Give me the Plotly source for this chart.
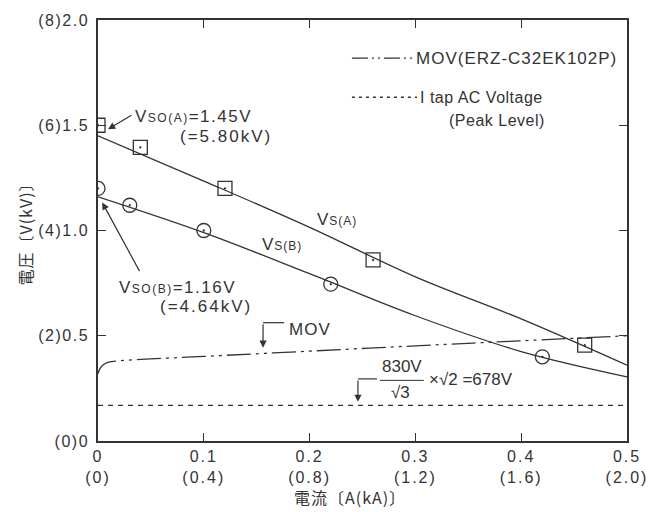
import plotly.graph_objects as go

# --- measured series -------------------------------------------------------
# V-I curve of the surge-arrester stack A (fitted line) and its measured points
curve_a_current = [0.0, 0.1, 0.2, 0.3, 0.4, 0.5]
curve_a_voltage = [1.45, 1.235, 1.015, 0.78, 0.58, 0.36]
meas_a_current = [0.0, 0.04, 0.12, 0.26, 0.46]
meas_a_voltage = [1.50, 1.395, 1.20, 0.86, 0.455]

# stack B
curve_b_current = [0.0, 0.1, 0.2, 0.3, 0.4, 0.5]
curve_b_voltage = [1.16, 0.99, 0.795, 0.595, 0.425, 0.305]
meas_b_current = [0.0, 0.03, 0.10, 0.22, 0.42]
meas_b_voltage = [1.20, 1.12, 1.00, 0.745, 0.40]

# MOV (ERZ-C32EK102P) characteristic
mov_current = [0.0, 0.002, 0.005, 0.01, 0.02, 0.05, 0.1, 0.2, 0.3, 0.4, 0.5]
mov_voltage = [0.32, 0.345, 0.362, 0.375, 0.381, 0.39, 0.402, 0.427, 0.452, 0.476, 0.50]

# 1 tap AC voltage, peak level: 830 V / sqrt(3) * sqrt(2) = 678 V  (kV scale = 4x)
itap_current = [0.0, 0.5]
itap_voltage = [0.678 / 4, 0.678 / 4]

# axis ticks
x_tick_vals = [0, 0.1, 0.2, 0.3, 0.4, 0.5]
x_tick_text = ["0<br>(0)", "0.1<br>(0.4)", "0.2<br>(0.8)", "0.3<br>(1.2)",
               "0.4<br>(1.6)", "0.5<br>(2.0)"]
y_tick_vals = [0, 0.5, 1.0, 1.5, 2.0]
y_tick_text = ["(0)0", "(2)0.5", "(4)1.0", "(6)1.5", "(8)2.0"]

INK = "#333333"
FONT = "Liberation Sans"
CJK = "Noto Sans CJK JP"
MOV_DASH = "24px,5px,3px,5px,3px,5px"
DOT_DASH = "5px,5px"


def spaced(s, px=2):
    return f"<span style='letter-spacing:{px}px'>{s}</span>"


fig = go.Figure()

fig.add_trace(go.Scatter(x=curve_a_current, y=curve_a_voltage, mode="lines",
                         line=dict(color=INK, width=1.3, shape="spline")))
fig.add_trace(go.Scatter(x=curve_b_current, y=curve_b_voltage, mode="lines",
                         line=dict(color=INK, width=1.3, shape="spline")))
fig.add_trace(go.Scatter(x=mov_current, y=mov_voltage, mode="lines",
                         line=dict(color=INK, width=1.3, dash=MOV_DASH, shape="spline")))
fig.add_trace(go.Scatter(x=itap_current, y=itap_voltage, mode="lines",
                         line=dict(color=INK, width=1.3, dash=DOT_DASH)))
fig.add_trace(go.Scatter(x=meas_a_current, y=meas_a_voltage, mode="markers",
                         marker=dict(symbol="square-open-dot", size=14, color=INK,
                                     line=dict(width=1.3, color=INK))))
fig.add_trace(go.Scatter(x=meas_b_current, y=meas_b_voltage, mode="markers",
                         marker=dict(symbol="circle-open-dot", size=14, color=INK,
                                     line=dict(width=1.3, color=INK))))

ann = []


def text(x, y, s, size=17, xanchor="left"):
    ann.append(dict(x=x, y=y, xref="x", yref="y", text=s, showarrow=False,
                    xanchor=xanchor, yanchor="middle",
                    font=dict(family=FONT, size=size, color=INK)))


def arrow(x_tip, y_tip, x_tail, y_tail):
    ann.append(dict(x=x_tip, y=y_tip, ax=x_tail, ay=y_tail, xref="x", yref="y",
                    axref="x", ayref="y", text="", showarrow=True,
                    arrowhead=2, arrowsize=1.2, arrowwidth=1.2, arrowcolor=INK,
                    standoff=0, startstandoff=0))


SUB = "<span style='font-size:12px'>"

text(0.033, 1.543, spaced(f"V{SUB}SO(A)</span>=1.45V", 1.5))
text(0.0756, 1.448, spaced("(=5.80kV)"))
arrow(0.0095, 1.481, 0.033, 1.552)

text(0.018, 0.729, spaced(f"V{SUB}SO(B)</span>=1.16V", 1.5))
text(0.0567, 0.638, spaced("(=4.64kV)"))
arrow(0.004, 1.133, 0.040, 0.80)

text(0.226, 1.052, spaced(f"V{SUB}S(A)</span>", 1), xanchor="center")
text(0.174, 0.933, spaced(f"V{SUB}S(B)</span>", 1), xanchor="center")

# MOV callout
text(0.179, 0.529, spaced("MOV", 1))
arrow(0.156, 0.443, 0.156, 0.562)

# 678 V callout
text(0.287, 0.352, "830V", xanchor="center")
text(0.2855, 0.229, "√3", xanchor="center")
text(0.311, 0.290, "×√2 =678V")
arrow(0.2457, 0.186, 0.2457, 0.295)

# key
text(0.2987, 1.819, spaced("MOV(ERZ-C32EK102P)", 1))
text(0.3025, 1.633, spaced("I tap AC Voltage", 0.5), size=16)
text(0.330, 1.524, spaced("(Peak Level)", 0.5), size=16)

# axis titles
ann.append(dict(x=0.476, y=0, xref="paper", yref="paper", yshift=-56,
                text=spaced("電流〔A(kA)〕", 1), showarrow=False,
                xanchor="center", yanchor="middle",
                font=dict(family=CJK, size=16, color=INK)))
ann.append(dict(x=0, y=0.5, xref="paper", yref="paper", xshift=-74,
                text=spaced("電圧〔V(kV)〕", 1), showarrow=False, textangle=-90,
                xanchor="center", yanchor="middle",
                font=dict(family=CJK, size=16, color=INK)))

shapes = [
    # callout brackets
    dict(type="line", xref="x", yref="y", x0=0.156, x1=0.176, y0=0.562, y1=0.562,
         line=dict(color=INK, width=1.2)),
    dict(type="line", xref="x", yref="y", x0=0.2457, x1=0.2637, y0=0.295, y1=0.295,
         line=dict(color=INK, width=1.2)),
    # fraction bar
    dict(type="line", xref="x", yref="y", x0=0.2665, x1=0.308, y0=0.288, y1=0.288,
         line=dict(color=INK, width=1.0)),
    # key samples
    dict(type="line", xref="x", yref="y", x0=0.240, x1=0.2977, y0=1.819, y1=1.819,
         line=dict(color=INK, width=1.3, dash="16px,4px,2px,4px,2px,4px")),
    dict(type="line", xref="x", yref="y", x0=0.240, x1=0.3015, y0=1.633, y1=1.633,
         line=dict(color=INK, width=1.3, dash="3px,4px")),
]

axis_common = dict(showline=True, linecolor=INK, linewidth=1.5, mirror="ticks",
                   ticks="inside", ticklen=8, tickwidth=1.3, tickcolor=INK,
                   showgrid=False, zeroline=False, ticklabeloverflow="allow",
                   automargin=False,
                   tickfont=dict(family=FONT, size=16, color=INK))

fig.update_layout(
    width=648, height=512,
    margin=dict(l=98, r=21, t=20, b=71),
    paper_bgcolor="white", plot_bgcolor="white",
    showlegend=False,
    annotations=ann, shapes=shapes,
    xaxis=dict(range=[0, 0.5], tickvals=x_tick_vals,
               ticktext=[spaced(t) for t in x_tick_text],
               **axis_common),
    yaxis=dict(range=[0, 2.0], tickvals=y_tick_vals,
               ticktext=[spaced(t, 1.5) for t in y_tick_text],
               ticklabelstandoff=4,
               **axis_common),
)

fig.write_html("out.html")
